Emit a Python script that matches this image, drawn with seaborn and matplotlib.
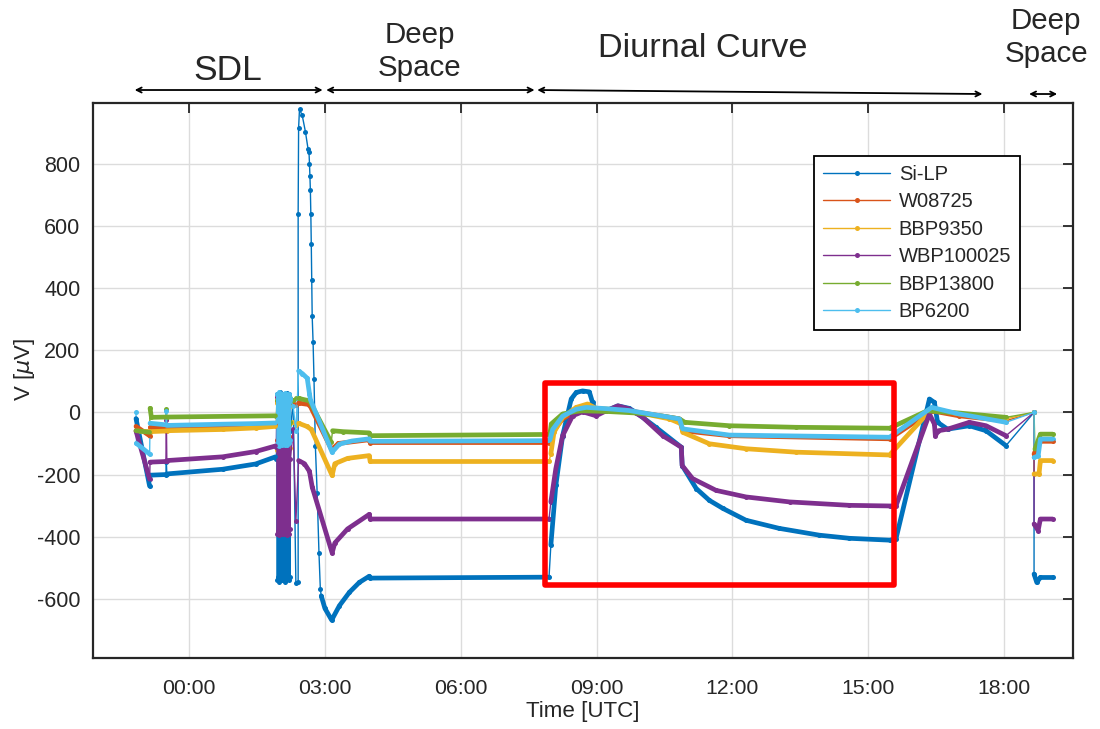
import numpy as np
import pandas as pd
import matplotlib
matplotlib.use("Agg")
import matplotlib.pyplot as plt
import seaborn as sns
from matplotlib.patches import Rectangle
from matplotlib import font_manager

nan = np.nan

SENSORS = ["Si-LP", "W08725", "BBP9350", "WBP100025", "BBP13800", "BP6200"]
COLORS = ["#0072BD", "#D95319", "#EDB120", "#7E2F8E", "#77AC30", "#4DBEEE"]

TICK_HOURS = [0, 3, 6, 9, 12, 15, 18]
TICK_LABELS = ["00:00", "03:00", "06:00", "09:00", "12:00", "15:00", "18:00"]
Y_TICKS = [-600, -400, -200, 0, 200, 400, 600, 800]

# Time in hours from 00:00 UTC, voltage in microvolts.
# nan separates acquisition blocks (blocks are drawn heavy, the whole trace light).
SILP_T = [-1.17, -0.87, nan, -0.86, -0.51, nan, -0.50, nan, -0.49, 0.74, 1.47, 1.91,
          nan, 2.92, 3.00, 3.15, 3.32, 3.54, 3.76, 3.98, 4.00, 7.95,
          nan, 7.99, 8.10, 8.25, 8.44, 8.55, 8.69, 8.84, 8.91, 8.99, 9.21, 9.47, 9.72,
          9.87, 10.31, 10.87, 10.89, 11.20, 11.49, 11.79, 12.30, 13.03, 13.92, 14.58,
          15.47, 15.61, 16.35, 16.46, 16.53, 16.75, 17.23, 17.60, 18.04,
          nan, 18.66, nan, 18.66, 18.72, 18.80, 19.07]
SILP_V = [-20, -237, nan, -202, -200, nan, -160, nan, -198, -183, -166, -143,
          nan, -590, -630, -668, -622, -579, -547, -527, -533, -530,
          nan, -427, -235, -75, 43, 64, 69, 66, 32, 0, 5, 21, 13,
          0, -48, -112, -171, -245, -283, -309, -347, -373, -395, -405,
          -411, -407, 43, 32, -32, -54, -43, -59, -107,
          nan, 0, nan, -520, -547, -531, -531]

W087_T = [-1.17, -0.87, nan, -0.86, -0.51, nan, -0.49, 0.74, 1.47, 1.91,
          nan, 2.42, 2.66, 3.15, 3.30, 3.98, 4.00, 7.95,
          nan, 7.97, 8.03, 8.25, 8.55, 8.77, 9.21, 9.72, 10.83, 10.90, 11.93, 15.47,
          16.40, 17.00, 18.04,
          nan, 18.66, nan, 18.66, 18.70, 18.80, 19.07]
W087_V = [-45, -75, nan, -48, -48, nan, -47, -45, -43, -40,
          nan, 30, 25, -120, -100, -88, -97, -97,
          nan, -95, -64, -21, 5, 11, 9, 5, -21, -59, -75, -85,
          5, -11, -27,
          nan, 0, nan, -134, -120, -93, -93]

BBP93_T = [-1.17, -0.87, nan, -0.86, -0.51, nan, -0.50, nan, -0.49, 0.74, 1.47, 1.91,
           nan, 2.42, 2.60, 2.70, 3.16, 3.22, 3.50, 3.98, 4.00, 7.95,
           nan, 7.99, 8.06, 8.25, 8.55, 8.80, 8.99, 9.21, 9.72, 10.61, 10.87, 10.90,
           11.49, 12.30, 13.40, 15.47, 16.40, 17.00, 18.04,
           nan, 18.66, nan, 18.66, 18.77, 18.80, 19.07]
BBP93_V = [-60, -62, nan, -62, -60, nan, -40, nan, -59, -55, -50, -45,
           nan, -35, -45, -55, -203, -165, -148, -139, -158, -158,
           nan, -133, -64, -16, 16, 27, 13, 11, 5, -21, -37, -64,
           -101, -117, -128, -137, 11, -5, -21,
           nan, 0, nan, -198, -198, -155, -155]

WBP_T = [-1.17, -0.87, nan, -0.86, -0.51, nan, -0.50, nan, -0.49, 0.74, 1.47, 1.91,
         nan, 2.42, 2.55, 2.66, 2.72, 3.16, 3.22, 3.50, 3.98, 4.00, 7.95,
         nan, 7.99, 8.10, 8.25, 8.47, 8.69, 8.99, 9.21, 9.47, 9.72, 10.02, 10.46, 10.87,
         10.89, 11.12, 11.64, 12.30, 13.26, 14.58, 15.47, 15.61, 16.35, 16.46, 16.48,
         16.55, 16.75, 17.23, 17.60, 18.04,
         nan, 18.66, nan, 18.66, 18.75, 18.80, 19.07]
WBP_V = [-60, -215, nan, -160, -158, nan, -25, nan, -155, -143, -126, -108,
         nan, -155, -165, -190, -240, -452, -420, -375, -328, -343, -343,
         nan, -288, -181, -75, -11, 2, -11, 5, 21, 11, -16, -75, -112,
         -171, -213, -251, -272, -288, -299, -301, -301, -5, -38, -75,
         -59, -54, -32, -43, -75,
         nan, 0, nan, -359, -380, -343, -343]

BBP138_T = [-1.17, -0.87, nan, -0.86, -0.83, -0.51, nan, -0.50, nan, -0.49, 1.91,
            nan, 2.42, 2.66, 3.14, nan, 3.17, 3.40, 3.98, 4.00, 7.95,
            nan, 7.97, 8.00, 8.25, 8.55, 8.69, 9.21, 9.87, 10.46, 10.83, 10.95, 11.93,
            13.40, 15.47, 16.30, 17.00, 18.04,
            nan, 18.66, nan, 18.68, 18.72, 18.80, 19.07]
BBP138_V = [-59, -64, nan, 13, -16, -15, nan, 10, nan, -15, -11,
            nan, 45, 37, -96, nan, -59, -62, -66, -75, -71,
            nan, -69, -37, -5, 3, 5, 3, -2, -12, -21, -32, -43,
            -48, -51, 5, -2, -16,
            nan, 0, nan, -118, -102, -70, -70]

BP62_T = [-1.17, nan, -1.16, -0.87, nan, -0.86, -0.51, nan, -0.50, nan, -0.49, 0.74, 1.47, 1.91,
          nan, 2.42, 2.50, 2.61, 2.66, 2.68, 3.16, 3.32, 3.60, 3.98, 4.00, 7.95,
          nan, 7.97, 8.03, 8.25, 8.55, 8.77, 9.21, 9.72, 10.83, 10.90, 11.93, 15.47,
          16.40, 17.00, 18.04,
          nan, 18.66, nan, 18.66, 18.75, 18.80, 19.07]
BP62_V = [0, nan, -100, -134, nan, -35, -40, nan, 5, nan, -42, -38, -36, -34,
          nan, 133, 125, 110, 60, 41, -128, -102, -92, -85, -93, -91,
          nan, -88, -55, -12, 10, 16, 12, 6, -21, -53, -73, -80,
          16, -5, -32,
          nan, 0, nan, -145, -140, -86, -86]

# Switching burst at the end of the SDL sequence (sparse, strongly oscillating samples)
BURST_T = [1.93, 1.94, 1.95, 1.96, 1.97, 1.98, 1.99, 2.00, 2.01, 2.02, 2.03, 2.04,
           2.05, 2.06, 2.07, 2.08, 2.09, 2.10, 2.11, 2.12, 2.13, 2.14, 2.15, 2.16,
           2.17, 2.18, 2.19, 2.20, 2.21, 2.22, 2.23, 2.24, 2.30, 2.36]
SILP_BURST = [-150, 60, -540, 45, -530, 55, -545, 30, -520, 64, -535, 50,
              -540, 45, -525, 60, -530, 40, -545, 55, -520, 35, -540, 62,
              -535, 48, -525, 58, -540, 42, -530, -60, 40, -550]
W087_BURST = [-40, 35, -90, 30, -85, 40, -95, 25, -80, 35, -90, 30,
              -85, 35, -80, 40, -92, 28, -88, 36, -84, 30, -90, 38,
              -86, 32, -82, 36, -90, 30, -80, 30, 30, 25]
BBP93_BURST = [-45, 30, -120, 20, -110, 35, -125, 25, -100, 30, -115, 20,
               -120, 30, -110, 25, -118, 22, -112, 32, -122, 26, -108, 30,
               -116, 24, -120, 28, -110, 20, -115, -35, -30, -40]
WBP_BURST = [-110, 50, -390, 40, -380, 52, -396, 30, -370, 45, -385, 35,
             -390, 40, -375, 48, -392, 36, -380, 50, -388, 42, -372, 46,
             -394, 38, -383, 44, -390, 34, -375, -150, -54, -350]
BBP138_BURST = [-12, 40, -40, 35, -30, 45, -35, 30, -25, 40, -30, 35,
                -35, 40, -30, 42, -38, 32, -28, 44, -36, 30, -32, 40,
                -34, 36, -30, 42, -36, 34, -30, 45, 40, 45]
BP62_BURST = [-35, 60, -105, 50, -100, 64, -108, 40, -95, 55, -100, 45,
              -105, 60, -90, 52, -102, 44, -98, 62, -106, 48, -94, 58,
              -104, 50, -96, 60, -100, 46, -90, 40, 20, -60]

# Si-LP overshoot after the SDL sequence
SILP_SPIKE_T = [2.41, 2.41, 2.42, 2.44, 2.50, 2.57, 2.63, 2.65, 2.66, 2.67, 2.68, 2.69,
                2.70, 2.71, 2.72, 2.74, 2.76, 2.79, 2.83, 2.87, 2.90]
SILP_SPIKE_V = [-545, 639, 915, 975, 955, 903, 846, 837, 800, 760, 714, 639,
                541, 426, 309, 225, 107, -108, -260, -453, -568]

# Phase annotations above the axes: (label, start hour, end hour, label centre hour)
PHASES = [("SDL", -1.20, 2.95, 0.85), ("Deep\nSpace", 3.03, 7.63, 5.09),
          ("Diurnal Curve", 7.69, 17.52, 11.34), ("Deep\nSpace", 18.55, 19.17, 18.93)]
BOX_HOURS = (7.87, 15.57)
BOX_UV = (-555, 94)

traces = [
    (SILP_T, SILP_V, BURST_T + SILP_SPIKE_T, SILP_BURST + SILP_SPIKE_V),
    (W087_T, W087_V, BURST_T, W087_BURST),
    (BBP93_T, BBP93_V, BURST_T, BBP93_BURST),
    (WBP_T, WBP_V, BURST_T, WBP_BURST),
    (BBP138_T, BBP138_V, BURST_T, BBP138_BURST),
    (BP62_T, BP62_V, BURST_T, BP62_BURST),
]

light_rows, heavy_rows = [], []
for name, (t, v, bt, bv) in zip(SENSORS, traces):
    t = np.asarray(t, float)
    v = np.asarray(v, float)
    block = np.cumsum(np.isnan(t))
    for ti, vi, bi in zip(t, v, block):
        if not np.isnan(ti):
            heavy_rows.append((name, f"{name}-{bi}", ti, vi))
    # full trace in time order, burst inserted after the SDL block
    valid = ~np.isnan(t)
    tv, vv = t[valid], v[valid]
    cut = int(np.argmax(tv > bt[0]))
    tt = np.concatenate([tv[:cut], bt, tv[cut:]])
    vvv = np.concatenate([vv[:cut], bv, vv[cut:]])
    for ti, vi in zip(tt, vvv):
        light_rows.append((name, ti, vi))

light = pd.DataFrame(light_rows, columns=["sensor", "hour", "uv"])
heavy = pd.DataFrame(heavy_rows, columns=["sensor", "block", "hour", "uv"])

sns.set_style("white")
plt.rcParams["font.family"] = ["Liberation Sans", "DejaVu Sans"]
plt.rcParams["mathtext.fontset"] = "dejavusans"
plt.rcParams["axes.unicode_minus"] = False

installed = {f.name for f in font_manager.fontManager.ttflist}
narrow = ["Liberation Sans Narrow"] if "Liberation Sans Narrow" in installed else []
narrow_family = narrow + ["Liberation Sans", "DejaVu Sans"]
narrow_scale = 1.0 if narrow else 0.85

fig = plt.figure(figsize=(11, 7.29), dpi=100)
ax = fig.add_axes([93 / 1100, 71 / 729, 980 / 1100, 555 / 729])

palette = dict(zip(SENSORS, COLORS))

sns.lineplot(data=light, x="hour", y="uv", hue="sensor", hue_order=SENSORS,
             palette=palette, sort=False, estimator=None, marker="o",
             markersize=3.6, markeredgewidth=0, linewidth=1.0, ax=ax)
sns.lineplot(data=heavy, x="hour", y="uv", hue="sensor", hue_order=SENSORS,
             units="block", palette=palette, sort=False, estimator=None,
             linewidth=3.4, legend=False, ax=ax)

ax.add_patch(Rectangle((BOX_HOURS[0], BOX_UV[0]), BOX_HOURS[1] - BOX_HOURS[0],
                       BOX_UV[1] - BOX_UV[0], fill=False, edgecolor="#FF0000",
                       linewidth=4.0, zorder=5, joinstyle="round"))

ax.set_xlim(-2.12, 19.52)
ax.set_ylim(-790, 995)
ax.set_xticks(TICK_HOURS)
ax.set_xticklabels(TICK_LABELS, family=narrow_family, fontsize=18 * narrow_scale)
ax.set_yticks(Y_TICKS)
ax.set_xlabel("Time [UTC]", fontsize=19 * narrow_scale, color="#262626",
              family=narrow_family, labelpad=2)
ax.set_ylabel("V [$\\mu$V]", fontsize=16, color="#262626")
ax.yaxis.set_label_coords(-0.057, 0.52)
ax.tick_params(direction="in", length=7, width=1.3, top=True, right=True,
               colors="#262626")
ax.tick_params(axis="y", labelsize=15.5, pad=9)
ax.tick_params(axis="x", pad=15)
ax.grid(True, color="#dcdcdc", linewidth=1.0)
for s in ax.spines.values():
    s.set_visible(True)
    s.set_color("#262626")
    s.set_linewidth(1.6)

leg = ax.legend(loc="upper left", bbox_to_anchor=(0.736, 0.905), borderaxespad=0,
                fontsize=14.5, handlelength=3.3, handletextpad=0.45,
                labelspacing=0.42, borderpad=0.45, fancybox=False,
                framealpha=1, edgecolor="black", title=None)
leg.get_frame().set_linewidth(1.3)
leg.set_zorder(10)

xt = ax.get_xaxis_transform()
arrow_y = [(1.0234, 1.0234), (1.0234, 1.0234), (1.0234, 1.0162), (1.0162, 1.0162)]
label_y = [1.059, 1.093, 1.099, 1.118]
label_size = [30, 25, 29, 25]
for (label, x0, x1, xc), (y0, y1), ly, fs in zip(PHASES, arrow_y, label_y, label_size):
    ax.annotate("", xy=(x1, y1), xytext=(x0, y0), xycoords=xt, textcoords=xt,
                arrowprops=dict(arrowstyle="<->", lw=1.3, color="black",
                                shrinkA=0, shrinkB=0, mutation_scale=9),
                annotation_clip=False)
    ax.text(xc, ly, label, transform=xt, ha="center", va="center",
            fontsize=fs * narrow_scale, family=narrow_family, linespacing=1.2,
            clip_on=False)

fig.savefig("out.png", dpi=100)
